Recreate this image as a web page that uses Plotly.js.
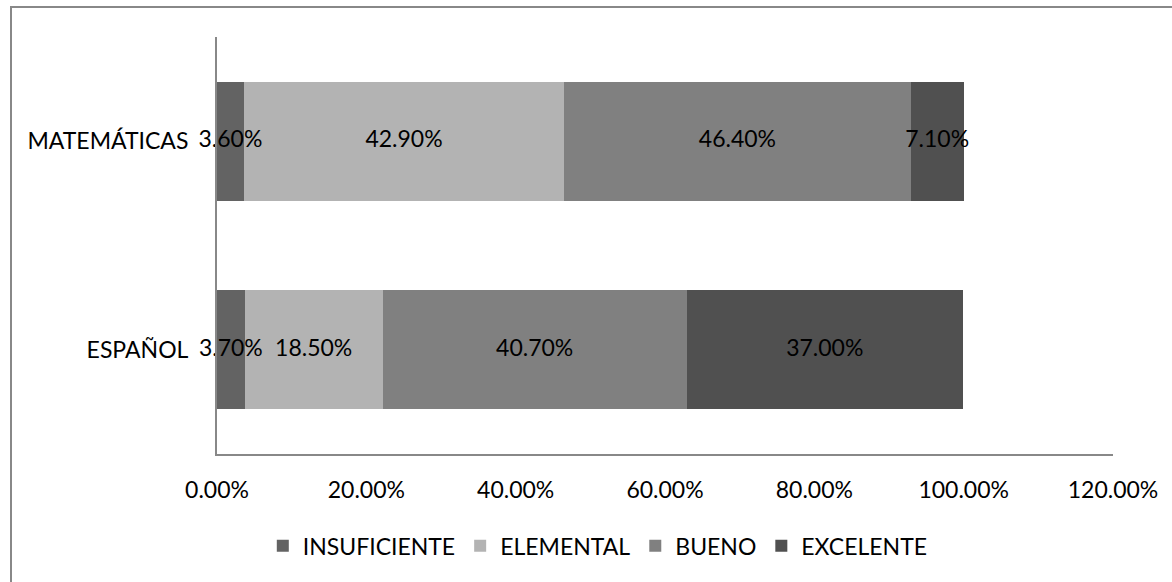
<!DOCTYPE html>
<html>
<head>
<meta charset="utf-8">
<script src="https://cdn.plot.ly/plotly-3.0.1.min.js"></script>
<style>
  html, body { margin: 0; padding: 0; background: #fff; }
  #wrap { position: relative; width: 1172px; height: 582px; overflow: hidden; }
  #frame { position: absolute; left: 10px; top: 6px; width: 1200px; height: 700px; border: 2px solid #888; box-sizing: border-box; }
  #chart { position: absolute; left: 0; top: 0; width: 1172px; height: 582px; }
</style>
</head>
<body>
<div id="wrap">
  <div id="frame"></div>
  <div id="chart"></div>
</div>
<script>
const categories = ['ESPAÑOL', 'MATEMÁTICAS'];
const seriesNames = ['INSUFICIENTE', 'ELEMENTAL', 'BUENO', 'EXCELENTE'];
const insuficiente = [3.7, 3.6];
const elemental = [18.5, 42.9];
const bueno = [40.7, 46.4];
const excelente = [37.0, 7.1];
const seriesColors = ['#636363', '#b3b3b3', '#808080', '#505050'];
const xTickVals = [0, 20, 40, 60, 80, 100, 120];

const FONT = 'Lato, "Open Sans", Arial, sans-serif';
const FS = 23;
const allSeries = [insuficiente, elemental, bueno, excelente];

const traces = allSeries.map((vals, i) => ({
  type: 'bar',
  orientation: 'h',
  name: seriesNames[i],
  y: categories,
  x: vals,
  marker: { color: seriesColors[i], line: { width: 0 } },
  width: 0.57,
  hoverinfo: 'x+name'
}));

// data labels centred in each segment
const labelX = [], labelY = [], labelT = [];
categories.forEach((c, ci) => {
  let cum = 0;
  allSeries.forEach(vals => {
    const v = vals[ci];
    labelX.push(cum + v / 2);
    labelY.push(c);
    labelT.push(v.toFixed(2) + '%');
    cum += v;
  });
});
traces.push({
  type: 'scatter',
  mode: 'text',
  x: labelX,
  y: labelY,
  text: labelT,
  textposition: 'middle center',
  textfont: { family: FONT, size: FS, color: '#000' },
  showlegend: false,
  hoverinfo: 'skip',
  cliponaxis: false
});

const layout = {
  width: 1172,
  height: 582,
  paper_bgcolor: 'rgba(0,0,0,0)',
  plot_bgcolor: 'rgba(0,0,0,0)',
  margin: { l: 217, r: 59, t: 37, b: 128 },
  barmode: 'stack',
  font: { family: FONT, size: FS, color: '#000' },
  showlegend: true,
  legend: {
    orientation: 'h',
    x: 0.425, xanchor: 'center',
    y: -0.22, yanchor: 'middle',
    traceorder: 'normal',
    font: { family: FONT, size: FS, color: '#000' },
    itemwidth: 30
  },
  xaxis: {
    range: [0, 120],
    tickvals: xTickVals,
    ticktext: xTickVals.map(v => v.toFixed(2) + '%'),
    showgrid: false,
    zeroline: false,
    showline: true,
    linecolor: '#888',
    linewidth: 2,
    ticks: '',
    ticklabelstandoff: 14,
    tickfont: { family: FONT, size: FS, color: '#000' },
    fixedrange: true
  },
  yaxis: {
    type: 'category',
    categoryorder: 'array',
    categoryarray: categories,
    showgrid: false,
    zeroline: false,
    showline: true,
    linecolor: '#888',
    linewidth: 2,
    ticks: '',
    ticklabelstandoff: 22,
    tickfont: { family: FONT, size: FS, color: '#000' },
    fixedrange: true
  }
};

Plotly.newPlot('chart', traces, layout, { displayModeBar: false, staticPlot: true });
</script>
</body>
</html>
